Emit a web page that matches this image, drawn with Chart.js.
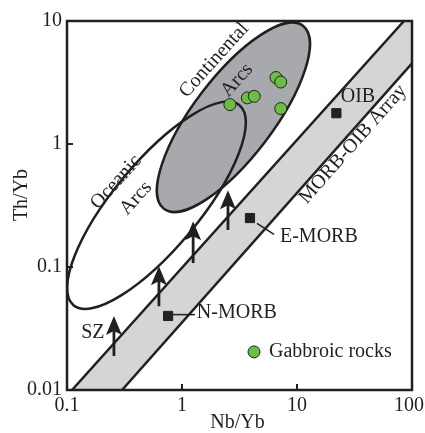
<!DOCTYPE html>
<html lang="en">
<head>
<meta charset="UTF-8">
<title>Th/Yb vs Nb/Yb</title>
<script src="https://cdn.jsdelivr.net/npm/chart.js"></script>
<style>
  body { margin: 0; padding: 0; background: #fff; }
  #wrap { width: 425px; height: 433px; }
</style>
</head>
<body>
<div id="wrap"><canvas id="chart" width="425" height="433"></canvas></div>
<script>
// --- data ---
const xTicks = [0.1, 1, 10, 100];
const yTicks = [0.01, 0.1, 1, 10];

// gabbroic rocks
const gabbroNbYb = [6.57, 7.22, 3.70, 4.25, 2.61, 7.22];
const gabbroThYb = [3.47, 3.19, 2.37, 2.44, 2.09, 1.94];

// reference compositions
const refNames = ['N-MORB', 'E-MORB', 'OIB'];
const refNbYb = [0.757, 3.9, 22];
const refThYb = [0.04, 0.25, 1.78];

// MORB-OIB array edges
const upperEdgeX = [0.1105, 85.2];
const upperEdgeY = [0.01, 10];
const lowerEdgeX = [0.301, 100];
const lowerEdgeY = [0.01, 4.53];

// subduction arrows (SZ)
const arrowX = [0.256, 0.63, 1.25, 2.51];
const arrowFrom = [0.0189, 0.048, 0.1076, 0.20];
const arrowTo = [0.040, 0.1016, 0.236, 0.42];

// arc fields (centre in data units, half axes in decades)
const continentalArc = { cx: 2.80, cy: 1.65, a: 1.0, b: 0.348, angle: 52.8 };
const oceanicArc = { cx: 0.60, cy: 0.318, a: 1.13, b: 0.374, angle: 50.3 };

const ink = '#231f20';
const serif = "'Liberation Serif', 'DejaVu Serif', serif";

const pts = (xs, ys) => xs.map((x, i) => ({ x: x, y: ys[i] }));

const bandShape = [
  { x: upperEdgeX[0], y: upperEdgeY[0] },
  { x: upperEdgeX[1], y: upperEdgeY[1] },
  { x: 100, y: 10 },
  { x: lowerEdgeX[1], y: lowerEdgeY[1] },
  { x: lowerEdgeX[0], y: lowerEdgeY[0] },
  { x: upperEdgeX[0], y: upperEdgeY[0] }
];

// labels placed in data coordinates
const labels = [
  { text: 'Continental', x: 1.90, y: 4.80, rot: -48 },
  { text: 'Arcs', x: 3.01, y: 3.30, rot: -48 },
  { text: 'Oceanic', x: 0.267, y: 0.49, rot: -48 },
  { text: 'Arcs', x: 0.398, y: 0.363, rot: -48 },
  { text: 'MORB-OIB Array', x: 30.7, y: 0.996, rot: -48.5 },
  { text: 'OIB', x: 33.9, y: 2.40, rot: 0 },
  { text: 'E-MORB', x: 15.5, y: 0.175, rot: 0 },
  { text: 'N-MORB', x: 3.0, y: 0.0423, rot: 0 },
  { text: 'SZ', x: 0.168, y: 0.029, rot: 0 }
];
const leaders = [
  [{ x: 0.818, y: 0.041 }, { x: 1.296, y: 0.041 }],
  [{ x: 4.49, y: 0.226 }, { x: 6.31, y: 0.184 }]
];

function drawEllipse(ctx, xs, ys, e, fill) {
  const dec = xs.getPixelForValue(10) - xs.getPixelForValue(1);
  ctx.beginPath();
  ctx.ellipse(xs.getPixelForValue(e.cx), ys.getPixelForValue(e.cy),
    e.a * dec, e.b * dec, -e.angle * Math.PI / 180, 0, Math.PI * 2);
  if (fill) {
    ctx.fillStyle = fill;
    ctx.fill();
  }
  ctx.lineWidth = 2.5;
  ctx.strokeStyle = ink;
  ctx.stroke();
}

const decorPlugin = {
  id: 'decor',
  beforeDatasetsDraw(chart) {
    const { ctx, chartArea: ca, scales: { x, y } } = chart;
    ctx.save();
    ctx.beginPath();
    ctx.rect(ca.left, ca.top, ca.right - ca.left, ca.bottom - ca.top);
    ctx.clip();
    drawEllipse(ctx, x, y, continentalArc, '#a7a9ac');
    drawEllipse(ctx, x, y, oceanicArc, null);
    ctx.restore();
  },
  afterDatasetsDraw(chart) {
    const { ctx, chartArea: ca, scales: { x, y } } = chart;
    ctx.save();
    // arrows
    ctx.fillStyle = ink;
    ctx.strokeStyle = ink;
    arrowX.forEach((v, i) => {
      const px = x.getPixelForValue(v);
      const p0 = y.getPixelForValue(arrowFrom[i]);
      const p1 = y.getPixelForValue(arrowTo[i]);
      ctx.lineWidth = 2.8;
      ctx.beginPath();
      ctx.moveTo(px, p0);
      ctx.lineTo(px, p1 + 10);
      ctx.stroke();
      ctx.beginPath();
      ctx.moveTo(px, p1);
      ctx.lineTo(px - 8, p1 + 19);
      ctx.lineTo(px, p1 + 15);
      ctx.lineTo(px + 8, p1 + 19);
      ctx.closePath();
      ctx.fill();
    });
    // leader lines
    ctx.lineWidth = 1.5;
    leaders.forEach(l => {
      ctx.beginPath();
      ctx.moveTo(x.getPixelForValue(l[0].x), y.getPixelForValue(l[0].y));
      ctx.lineTo(x.getPixelForValue(l[1].x), y.getPixelForValue(l[1].y));
      ctx.stroke();
    });
    // labels
    ctx.font = '20px ' + serif;
    ctx.textAlign = 'center';
    ctx.textBaseline = 'middle';
    labels.forEach(l => {
      ctx.save();
      ctx.translate(x.getPixelForValue(l.x), y.getPixelForValue(l.y));
      ctx.rotate(l.rot * Math.PI / 180);
      ctx.fillText(l.text, 0, 0);
      ctx.restore();
    });
    // legend
    const lx = x.getPixelForValue(4.23), ly = y.getPixelForValue(0.0204);
    ctx.beginPath();
    ctx.arc(lx, ly, 6, 0, Math.PI * 2);
    ctx.fillStyle = '#6cbd45';
    ctx.fill();
    ctx.lineWidth = 1;
    ctx.strokeStyle = ink;
    ctx.stroke();
    ctx.fillStyle = ink;
    ctx.textAlign = 'left';
    ctx.fillText('Gabbroic rocks', lx + 15, ly);
    // frame and inward ticks
    ctx.lineWidth = 2.5;
    ctx.strokeRect(ca.left, ca.top, ca.right - ca.left, ca.bottom - ca.top);
    ctx.lineWidth = 2;
    xTicks.slice(1, -1).forEach(v => {
      const px = x.getPixelForValue(v);
      ctx.beginPath();
      ctx.moveTo(px, ca.bottom);
      ctx.lineTo(px, ca.bottom - 6);
      ctx.stroke();
    });
    yTicks.slice(1, -1).forEach(v => {
      const py = y.getPixelForValue(v);
      ctx.beginPath();
      ctx.moveTo(ca.left, py);
      ctx.lineTo(ca.left + 6, py);
      ctx.stroke();
    });
    // x tick labels (last one kept inside the canvas)
    ctx.textAlign = 'center';
    xTicks.forEach(v => {
      let px = x.getPixelForValue(v);
      const w = ctx.measureText(String(v)).width;
      px = Math.min(px, chart.width - 1 - w / 2);
      ctx.fillText(String(v), px, ca.bottom + 16);
    });
    // axis titles
    ctx.fillText('Nb/Yb', (ca.left + ca.right) / 2 - 2, 423);
    ctx.save();
    ctx.translate(22, 195);
    ctx.rotate(-Math.PI / 2);
    ctx.fillText('Th/Yb', 0, 0);
    ctx.restore();
    ctx.restore();
  }
};

const tickFont = { family: serif, size: 20 };

new Chart(document.getElementById('chart'), {
  type: 'scatter',
  data: {
    datasets: [
      {
        label: 'Gabbroic rocks',
        data: pts(gabbroNbYb, gabbroThYb),
        pointRadius: 6,
        pointBackgroundColor: '#6cbd45',
        pointBorderColor: ink,
        pointBorderWidth: 1
      },
      {
        label: 'Reference',
        data: pts(refNbYb, refThYb),
        pointStyle: 'rect',
        pointRadius: 6.5,
        pointBackgroundColor: ink,
        pointBorderColor: ink,
        pointBorderWidth: 1
      },
      {
        label: 'upper',
        type: 'line',
        data: pts(upperEdgeX, upperEdgeY),
        borderColor: ink,
        borderWidth: 2.5,
        pointRadius: 0,
        fill: false
      },
      {
        label: 'lower',
        type: 'line',
        data: pts(lowerEdgeX, lowerEdgeY),
        borderColor: ink,
        borderWidth: 2.5,
        pointRadius: 0,
        fill: false
      },
      {
        label: 'band',
        type: 'line',
        data: bandShape,
        borderWidth: 0,
        borderColor: 'rgba(0,0,0,0)',
        backgroundColor: '#d4d5d7',
        pointRadius: 0,
        fill: 'shape'
      }
    ]
  },
  options: {
    responsive: false,
    animation: false,
    devicePixelRatio: 1,
    layout: { padding: { left: 0, top: 21, right: 13, bottom: 0 } },
    plugins: {
      legend: { display: false },
      tooltip: { enabled: false }
    },
    scales: {
      x: {
        type: 'logarithmic',
        min: 0.1,
        max: 100,
        afterBuildTicks: s => { s.ticks = xTicks.map(v => ({ value: v })); },
        afterFit: s => { s.height = 43; s.paddingLeft = 0; s.paddingRight = 0; },
        grid: { display: false, drawTicks: false },
        border: { display: false },
        ticks: { display: false }
      },
      y: {
        type: 'logarithmic',
        min: 0.01,
        max: 10,
        afterBuildTicks: s => { s.ticks = yTicks.map(v => ({ value: v })); },
        afterFit: s => { s.width = 67; s.paddingTop = 0; s.paddingBottom = 0; },
        grid: { display: false, drawTicks: false },
        border: { display: false },
        ticks: {
          font: tickFont,
          color: ink,
          padding: 5,
          callback: v => String(v)
        }
      }
    }
  },
  plugins: [decorPlugin]
});
</script>
</body>
</html>
